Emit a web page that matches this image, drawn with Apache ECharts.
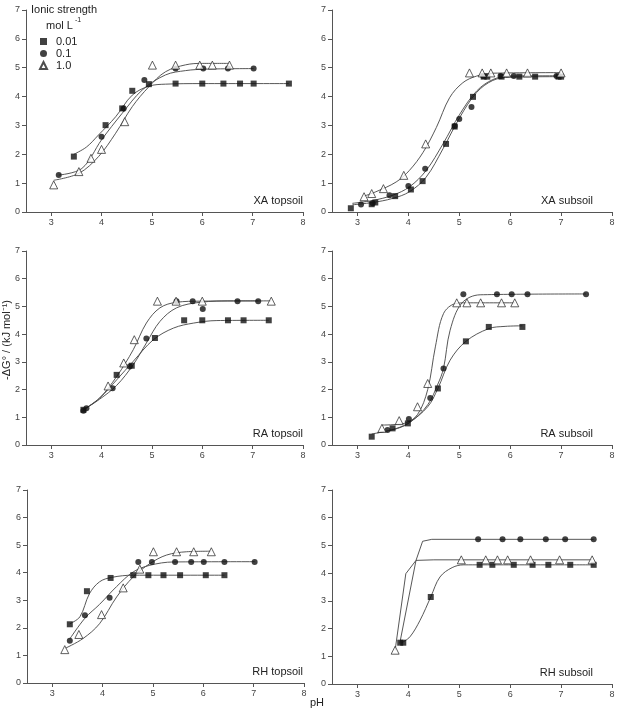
<!DOCTYPE html>
<html><head><meta charset="utf-8">
<script src="https://cdn.jsdelivr.net/npm/echarts@6/dist/echarts.min.js"></script>
<style>html,body{margin:0;padding:0;background:#fff}#c{width:622px;height:710px}</style>
</head><body><div id="c"></div>
<script>
// ---- data ----
const seriesNames = ['0.01', '0.1', '1.0'];
const panelTitles = ['XA topsoil', 'XA subsoil', 'RA topsoil', 'RA subsoil', 'RH topsoil', 'RH subsoil'];
const xTicks = [3, 4, 5, 6, 7, 8];
const yTicks = [0, 1, 2, 3, 4, 5, 6, 7];

// XA topsoil
const xaTopSq = [[3.45,1.92],[4.08,3.01],[4.41,3.59],[4.61,4.20],[4.94,4.43],[5.47,4.45],[6.0,4.45],[6.42,4.45],[6.75,4.45],[7.02,4.45],[7.72,4.45]];
const xaTopCi = [[3.15,1.28],[4.0,2.61],[4.44,3.59],[4.85,4.57],[5.47,4.97],[6.02,4.97],[6.51,4.97],[7.02,4.97]];
const xaTopTr = [[3.05,0.94],[3.55,1.40],[3.79,1.86],[4.0,2.17],[4.46,3.13],[5.01,5.09],[5.47,5.09],[5.95,5.09],[6.2,5.09],[6.54,5.09]];
const xaTopSqFit = [[3.45,2.0],[3.7,2.25],[3.94,2.67],[4.28,3.30],[4.61,4.05],[4.94,4.36],[5.27,4.43],[6.0,4.45],[7.72,4.45]];
const xaTopCiFit = [[3.15,1.28],[3.61,1.51],[4.0,2.5],[4.41,3.42],[4.81,4.23],[5.27,4.75],[5.67,4.9],[6.07,4.95],[7.02,4.97]];
const xaTopTrFit = [[3.05,1.1],[3.55,1.34],[3.94,1.92],[4.28,2.73],[4.61,3.65],[4.94,4.34],[5.27,4.86],[5.67,5.1],[6.0,5.15],[6.54,5.15]];

// XA subsoil
const xaSubSq = [[2.87,0.13],[3.28,0.27],[3.35,0.33],[3.74,0.55],[4.05,0.78],[4.28,1.07],[4.74,2.36],[4.91,2.96],[5.27,3.99],[5.48,4.69],[5.55,4.69],[5.83,4.69],[6.18,4.69],[6.49,4.69],[6.95,4.69],[7.0,4.69]];
const xaSubCi = [[3.07,0.26],[3.3,0.3],[3.63,0.58],[4.0,0.9],[4.33,1.5],[4.91,2.98],[5.0,3.22],[5.24,3.64],[5.47,4.71],[5.81,4.71],[6.07,4.71],[6.91,4.71]];
const xaSubTr = [[3.13,0.53],[3.28,0.64],[3.51,0.81],[3.91,1.27],[4.34,2.36],[5.2,4.82],[5.45,4.82],[5.62,4.82],[5.93,4.82],[6.34,4.82],[7.0,4.82]];
const xaSubSqFit = [[2.9,0.25],[3.3,0.33],[3.69,0.47],[4.02,0.7],[4.35,1.21],[4.68,2.19],[5.01,3.28],[5.34,4.14],[5.66,4.56],[5.99,4.67],[7.0,4.69]];
const xaSubCiFit = [[2.9,0.3],[3.3,0.4],[3.69,0.58],[4.02,0.87],[4.35,1.44],[4.68,2.36],[5.01,3.39],[5.34,4.19],[5.66,4.59],[5.99,4.71],[7.0,4.72]];
const xaSubTrFit = [[3.13,0.55],[3.36,0.7],[3.76,1.04],[4.02,1.44],[4.29,2.07],[4.55,2.93],[4.81,3.96],[5.07,4.48],[5.34,4.71],[5.66,4.81],[7.0,4.83]];

// RA topsoil
const raTopSq = [[3.64,1.27],[4.30,2.53],[4.60,2.86],[5.06,3.86],[5.64,4.50],[6.0,4.50],[6.51,4.50],[6.82,4.50],[7.32,4.50]];
const raTopCi = [[3.64,1.24],[3.7,1.33],[4.22,2.05],[4.56,2.83],[4.89,3.84],[5.49,5.19],[5.81,5.19],[6.01,4.91],[6.70,5.19],[7.11,5.19]];
const raTopTr = [[4.13,2.13],[4.44,2.96],[4.65,3.8],[5.11,5.19],[5.48,5.19],[6.0,5.19],[7.37,5.19]];
const raTopSqFit = [[3.64,1.27],[3.96,1.69],[4.3,2.35],[4.63,3.02],[5.03,3.80],[5.43,4.22],[5.83,4.4],[6.29,4.49],[7.32,4.5]];
const raTopCiFit = [[3.64,1.27],[3.96,1.65],[4.30,2.15],[4.63,2.9],[4.89,3.68],[5.16,4.46],[5.49,4.95],[5.96,5.15],[6.62,5.2],[7.11,5.2]];
const raTopTrFit = [[3.64,1.27],[3.96,1.69],[4.30,2.47],[4.63,3.44],[4.89,4.40],[5.16,4.95],[5.49,5.15],[5.96,5.19],[7.37,5.2]];

// RA subsoil
const raSubSq = [[3.28,0.30],[3.69,0.60],[3.99,0.78],[4.58,2.04],[5.13,3.74],[5.58,4.26],[6.24,4.26]];
const raSubCi = [[3.59,0.54],[4.01,0.94],[4.43,1.70],[4.69,2.76],[5.08,5.44],[5.74,5.44],[6.03,5.44],[6.34,5.44],[7.49,5.44]];
const raSubTr = [[3.48,0.6],[3.82,0.88],[4.18,1.38],[4.38,2.22],[4.95,5.13],[5.15,5.13],[5.42,5.13],[5.83,5.13],[6.09,5.13]];
const raSubSqFit = [[3.28,0.40],[3.66,0.54],[3.99,0.78],[4.38,1.38],[4.58,2.04],[4.82,3.06],[5.13,3.74],[5.58,4.2],[5.9,4.28],[6.24,4.3]];
const raSubCiFit = [[3.39,0.44],[3.79,0.6],[4.05,0.84],[4.38,1.45],[4.58,2.2],[4.69,2.76],[4.82,4.14],[5.05,5.12],[5.41,5.42],[7.49,5.45]];
const raSubTrFit = [[3.48,0.72],[3.92,0.78],[4.18,1.1],[4.38,2.0],[4.53,3.54],[4.69,4.74],[4.92,5.1],[5.15,5.13],[6.09,5.13]];

// RH topsoil
const rhTopSq = [[3.35,2.13],[3.69,3.33],[4.16,3.81],[4.61,3.91],[4.91,3.91],[5.21,3.91],[5.54,3.91],[6.05,3.91],[6.42,3.91]];
const rhTopCi = [[3.35,1.53],[3.65,2.46],[4.14,3.09],[4.71,4.39],[4.98,4.39],[5.44,4.39],[5.76,4.39],[6.01,4.39],[6.42,4.39],[7.02,4.39]];
const rhTopTr = [[3.25,1.21],[3.53,1.76],[3.98,2.48],[4.41,3.45],[4.74,4.13],[5.01,4.76],[5.47,4.76],[5.81,4.76],[6.16,4.76]];
const rhTopSqFit = [[3.35,2.15],[3.55,2.4],[3.74,3.24],[3.94,3.67],[4.18,3.83],[4.61,3.91],[6.42,3.91]];
const rhTopCiFit = [[3.35,1.6],[3.65,2.35],[3.94,2.85],[4.28,3.5],[4.61,4.03],[4.94,4.27],[5.41,4.39],[7.02,4.4]];
const rhTopTrFit = [[3.25,1.25],[3.61,1.61],[3.94,2.15],[4.28,3.12],[4.61,3.85],[4.94,4.33],[5.27,4.64],[5.67,4.76],[6.16,4.78]];

// RH subsoil
const rhSubSq = [[3.84,1.49],[3.9,1.49],[4.44,3.14],[5.4,4.30],[5.65,4.30],[6.07,4.30],[6.44,4.30],[6.75,4.30],[7.18,4.30],[7.64,4.30]];
const rhSubCi = [[5.37,5.22],[5.85,5.22],[6.2,5.22],[6.7,5.22],[7.08,5.22],[7.64,5.22]];
const rhSubTr = [[3.74,1.22],[5.04,4.48],[5.52,4.48],[5.75,4.48],[5.95,4.48],[6.40,4.48],[6.97,4.48],[7.61,4.48]];
const rhSubSqFit = [[3.87,1.49],[4.03,1.70],[4.23,2.30],[4.44,3.14],[4.62,3.86],[4.86,4.20],[5.09,4.30],[7.64,4.30]];
const rhSubCiFit = [[3.83,1.46],[4.15,4.46],[4.28,5.15],[4.46,5.22],[7.64,5.22]];
const rhSubTrFit = [[3.74,1.22],[3.95,3.98],[4.15,4.46],[4.5,4.48],[7.61,4.48]];

// ---- assembly ----
const panels = [
  {pts:[xaTopSq,xaTopCi,xaTopTr], fits:[xaTopSqFit,xaTopCiFit,xaTopTrFit]},
  {pts:[xaSubSq,xaSubCi,xaSubTr], fits:[xaSubSqFit,xaSubCiFit,xaSubTrFit]},
  {pts:[raTopSq,raTopCi,raTopTr], fits:[raTopSqFit,raTopCiFit,raTopTrFit]},
  {pts:[raSubSq,raSubCi,raSubTr], fits:[raSubSqFit,raSubCiFit,raSubTrFit]},
  {pts:[rhTopSq,rhTopCi,rhTopTr], fits:[rhTopSqFit,rhTopCiFit,rhTopTrFit]},
  {pts:[rhSubSq,rhSubCi,rhSubTr], fits:[rhSubSqFit,rhSubCiFit,rhSubTrFit]}
];
const rects = [
  {left:26, top:10, width:277, height:202},
  {left:332, top:10, width:280, height:202},
  {left:26, top:251, width:277, height:194},
  {left:332, top:251, width:280, height:194},
  {left:27, top:490, width:277, height:193},
  {left:332, top:490, width:280, height:194}
];
const axisColor = '#555';
const labelColor = '#444';
const font = 'Liberation Sans, Arial, sans-serif';
const symbols = ['rect', 'circle', 'triangle'];
const symSizes = [6, 6, 8];
const symStyle = [
  {color:'#111'}, {color:'#111'}, {color:'#fff', borderColor:'#222', borderWidth:0.9}
];

const grid = [], xAxis = [], yAxis = [], series = [], graphic = [];
rects.forEach((r, i) => {
  grid.push(Object.assign({containLabel:false}, r));
  xAxis.push({
    type:'value', gridIndex:i, min:2.5, max:8,
    axisLine:{onZero:false, lineStyle:{color:axisColor, width:1}},
    axisTick:{show:true, length:4, customValues:xTicks, lineStyle:{color:axisColor}},
    axisLabel:{customValues:xTicks, color:labelColor, fontSize:9, fontFamily:font, margin:6},
    splitLine:{show:false}
  });
  yAxis.push({
    type:'value', gridIndex:i, min:0, max:7, interval:1,
    axisLine:{show:true, lineStyle:{color:axisColor, width:1}},
    axisTick:{show:true, length:4, lineStyle:{color:axisColor}},
    axisLabel:{color:labelColor, fontSize:9, fontFamily:font, margin:6, showMinLabel:true, showMaxLabel:true},
    splitLine:{show:false}
  });
  const p = panels[i];
  p.fits.forEach((f, k) => {
    series.push({
      type:'line', xAxisIndex:i, yAxisIndex:i, data:f, showSymbol:false, symbol:'none',
      smooth: i === 5 ? (k === 0 ? 0.35 : false) : 0.35,
      lineStyle:{color:'#444', width:0.9}, silent:true, z:1
    });
  });
  p.pts.forEach((d, k) => {
    series.push({
      name:seriesNames[k], type:'scatter', xAxisIndex:i, yAxisIndex:i, data:d,
      symbol:symbols[k], symbolSize:symSizes[k], itemStyle:symStyle[k], z:3
    });
  });
  const right = (i % 2 === 0) ? 303 : 593;
  graphic.push({type:'text', right: 622 - right, top: r.top + r.height - 17,
    style:{text:panelTitles[i], fill:'#222', font:'11px ' + font}});
});

graphic.push({type:'text', left:31, top:4, style:{text:'Ionic strength', fill:'#222', font:'11px ' + font}});
graphic.push({type:'text', left:46, top:20, style:{text:'mol L', fill:'#222', font:'11px ' + font}});
graphic.push({type:'text', left:75, top:17, style:{text:'-1', fill:'#222', font:'7px ' + font}});
graphic.push({type:'text', left:1, top:300, rotation:Math.PI/2,
  style:{text:'-ΔG° / (kJ mol⁻¹)', fill:'#222', font:'11px ' + font}});
graphic.push({type:'text', left:310, top:697, style:{text:'pH', fill:'#222', font:'11px ' + font}});

const chart = echarts.init(document.getElementById('c'), null, {renderer:'canvas'});
chart.setOption({
  animation:false,
  backgroundColor:'#fff',
  grid, xAxis, yAxis, series, graphic,
  legend:{
    data:seriesNames.map((n, k) => ({name:n, icon:symbols[k]})),
    orient:'vertical', left:34, top:31, itemWidth:7, itemHeight:7, itemGap:1,
    textStyle:{fontSize:11, lineHeight:11, fontFamily:font, color:'#222', padding:[0,0,0,4]},
    selectedMode:false
  }
});
</script></body></html>
